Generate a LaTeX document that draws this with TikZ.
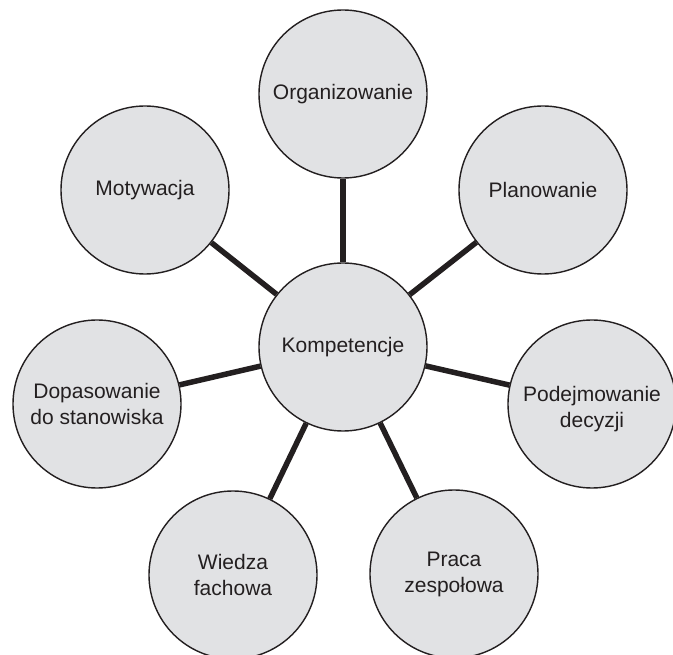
\documentclass[tikz,border=0pt]{standalone}
\usepackage{fontspec}
\setmainfont{Liberation Sans}
\definecolor{txt}{HTML}{231F20}
\definecolor{bubblefill}{HTML}{E1E2E4}
\tikzset{
  bubbletext/.style={text=txt, font=\fontsize{21}{26}\selectfont, align=center},
  bubble/.style={circle, draw=txt, line width=1.4pt, fill=bubblefill, minimum size=168pt, inner sep=0pt, bubbletext},
  link/.style={draw=txt, line width=5.5pt}
}
\begin{document}
\begin{tikzpicture}[x=1pt, y=-1pt]
\useasboundingbox (0,0) rectangle (673,655);
\clip (0,0) rectangle (673,655);
\node[bubble] (k) at (343,347) {Kompetencje};
\node[bubble] (o) at (343,94) {Organizowanie};
\node[bubble] (p) at (543,190) {Planowanie};
\node[bubble, label={[bubbletext, yshift=-5pt]center:Podejmowanie\\decyzji}] (d) at (592,404) {};
\node[bubble] (z) at (454,574) {Praca\\zespołowa};
\node[bubble] (w) at (233,575) {Wiedza\\fachowa};
\node[bubble] (s) at (97,404) {Dopasowanie\\do stanowiska};
\node[bubble] (m) at (145,190) {Motywacja};
\foreach \t in {o,p,d,z,w,s,m} \draw[link] (k) -- (\t);
\end{tikzpicture}
\end{document}
